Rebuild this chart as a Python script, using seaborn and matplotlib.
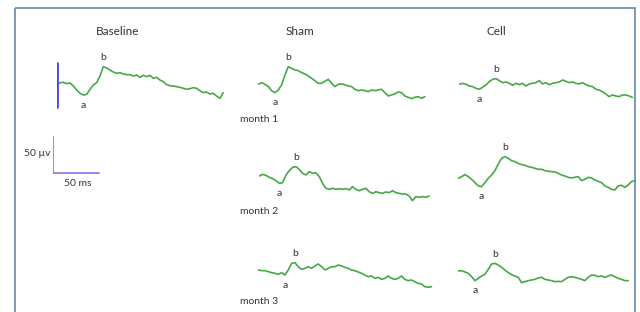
import numpy as np
import matplotlib
matplotlib.use("Agg")
import matplotlib.pyplot as plt
import seaborn as sns

# Registros ERG (µV relativos al inicio del trazo), una muestra cada DT_MS
DT_MS = 3.62

baseline = [0, 3.2, 3.7, 1.9, 2.8, -1.4, -6.9, -11.6, -13.9, -13.0, -6.0, 0, 3.2, 12.5, 25.5,
            23.6, 20.8, 18.1, 16.2, 17.1, 15.3, 14.4, 14.4, 12.5, 13.9, 10.6, 13.4, 11.6, 13.4,
            9.3, 10.6, 6.9, 4.6, 0.5, -0.9, -1.4, -2.3, -3.2, -4.6, -6.0, -5.1, -3.7, -4.6,
            -7.9, -10.6, -9.7, -12.5, -11.6, -15.3, -18.5, -10.6]

sham_m1 = [0, 2.3, 0, -3.2, -8.8, -11.6, -7.9, -0.9, 13.0, 24.5, 22.2, 19.9, 19.0, 16.2, 14.4,
           11.6, 8.3, 5.1, 1.4, 1.4, 4.2, 6.9, 1.4, -3.2, 0, 0.5, -0.5, -2.3, -3.2, -6.9, -8.8,
           -7.9, -8.8, -10.2, -7.9, -8.8, -7.9, -6.9, -11.6, -16.2, -14.8, -13.4, -10.6, -11.6,
           -16.2, -18.1, -19.9, -18.1, -17.1, -19.4, -17.1]

cell_m1 = [0, 1.4, 0, -2.3, -3.2, -5.6, -6.9, -4.2, -0.9, 3.7, 6.9, 7.9, 5.1, 2.3, 3.2, 1.4,
           -1.4, 1.4, -0.5, 1.4, -2.3, 0.5, 1.4, 2.3, 5.1, 0.5, 2.3, -0.5, 1.4, 2.3, 3.2, 6.0,
           4.2, 2.3, 3.2, 1.4, 0.5, 2.3, -0.5, -2.3, -3.2, -6.9, -7.9, -10.2, -13.4, -17.1,
           -14.8, -16.2, -17.1, -14.8, -14.8, -16.2, -18.1]

sham_m2 = [0, 2.3, 0.9, -1.9, -3.7, -6.5, -10.2, -9.3, 1.4, 7.4, 12.0, 13.0, 9.3, 3.7, 1.4,
           6.0, 3.7, 4.6, -0.9, -10.2, -17.1, -18.5, -17.1, -18.5, -17.6, -18.5, -17.6, -19.4,
           -14.8, -18.5, -20.4, -18.5, -17.1, -21.8, -24.1, -21.8, -23.1, -24.1, -22.2, -23.1,
           -20.4, -23.1, -24.1, -25.0, -25.0, -27.8, -34.3, -28.7, -29.6, -28.7, -29.6, -27.8]

cell_m2 = [0, 2.3, 5.1, 2.3, -1.4, -6.0, -10.6, -11.6, -6.0, 0, 4.6, 10.6, 19.9, 27.8, 30.1,
           27.8, 24.5, 23.1, 20.8, 19.0, 18.1, 16.2, 15.3, 13.9, 12.5, 12.5, 10.6, 9.7, 9.3,
           8.8, 6.9, 4.6, 3.2, 1.4, 0.5, 1.4, 2.3, -3.2, -1.4, 1.4, 0.5, -2.3, -4.2, -6.0,
           -10.6, -12.5, -15.3, -16.2, -10.6, -9.7, -12.5, -9.3, -4.6, -3.2]

sham_m3 = [0, -0.9, -0.9, -2.3, -3.7, -4.6, -6.0, -3.7, -6.9, 0, 9.3, 10.2, 4.6, 0.9, 2.3,
           4.6, 2.3, 5.6, 8.3, 4.6, 0, 2.3, 4.6, 4.6, 6.9, 5.6, 3.7, 2.3, 0, -0.9, -2.8, -4.6,
           -6.9, -9.3, -8.3, -11.6, -10.2, -13.0, -11.6, -8.3, -11.6, -13.0, -11.6, -8.3,
           -13.0, -14.8, -13.9, -16.2, -18.5, -19.4, -23.1, -24.1, -23.1]

cell_m3 = [0, 0.5, -1.4, -3.2, -7.9, -13.4, -10.2, -6.9, -4.6, 2.3, 9.7, 10.6, 8.3, 5.1, 1.4,
           -2.3, -5.1, -6.9, -8.8, -16.2, -14.8, -13.4, -12.5, -11.6, -9.7, -8.8, -11.6,
           -12.5, -13.4, -14.8, -14.4, -14.8, -11.6, -8.8, -7.9, -8.8, -10.2, -11.6, -13.4,
           -8.8, -5.6, -6.0, -7.9, -6.9, -8.8, -6.9, -5.6, -7.9, -10.2, -11.6, -13.4, -13.4]

grupos = ["Baseline", "Sham", "Cell"]
meses = ["month 1", "month 2", "month 3"]
SCALE_UV = 50
SCALE_MS = 50

# escala de la figura: pixeles por unidad
MS_PER_PX = 50 / 46
UV_PER_PX = 50 / 36
W, H = 640, 312

VERDE = "#46a846"
TEXTO = "#333333"

sns.set_theme(style="white")
plt.rcParams["font.family"] = ["Lato", "DejaVu Sans"]

fig = plt.figure(figsize=(6.4, 3.12), dpi=100)

# eje de fondo en pixeles para marco y textos
bg = fig.add_axes([0, 0, 1, 1])
bg.set_xlim(0, W)
bg.set_ylim(H, 0)
bg.axis("off")
bg.add_patch(plt.Rectangle((15, 8), 620, 320, fill=False, edgecolor="#6288b2", linewidth=1.2))


def eje_trazo(x0, y0):
    # ejes donde el punto (0 ms, 0 µV) cae en el pixel (x0, y0)
    ax = fig.add_axes([x0 / W, 1 - (y0 + 60) / H, 200 / W, 120 / H])
    ax.set_xlim(0, 200 * MS_PER_PX)
    ax.set_ylim(-60 * UV_PER_PX, 60 * UV_PER_PX)
    ax.axis("off")
    ax.patch.set_alpha(0)
    return ax


def dibujar(x0, y0, valores):
    ax = eje_trazo(x0, y0)
    v = np.array(valores)
    t = np.arange(len(v)) * DT_MS
    sns.lineplot(x=t, y=v, ax=ax, color=VERDE, linewidth=1.2)
    # onda b = maximo, onda a = minimo antes de b
    ib = int(np.argmax(v[: len(v) // 2]))
    ia = int(np.argmin(v[:ib]))
    ax.annotate("b", (t[ib], v[ib]), xytext=(0, 3), textcoords="offset points",
                ha="center", va="bottom", fontsize=7.5, color=TEXTO)
    ax.annotate("a", (t[ia], v[ia]), xytext=(0, -4), textcoords="offset points",
                ha="center", va="top", fontsize=7.5, color=TEXTO)
    return ax


ax0 = dibujar(56.7, 85, baseline)
# marca del estimulo
ax0.plot([0, 0], [-31, 31], color="#4646f0", linewidth=2)

dibujar(258.3, 84.3, sham_m1)
dibujar(459.3, 84.3, cell_m1)
dibujar(259.3, 176, sham_m2)
dibujar(458.3, 178.3, cell_m2)
dibujar(258.3, 270, sham_m3)
dibujar(458.3, 271, cell_m3)

# barra de escala
axs = eje_trazo(53, 173)
axs.plot([0, 0, SCALE_MS], [SCALE_UV, 0, 0], color="#8a80f0", linewidth=1.3)
bg.text(51, 153, f"{SCALE_UV} µv", ha="right", va="center", fontsize=7.5, color=TEXTO)
bg.text(78, 183, f"{SCALE_MS} ms", ha="center", va="center", fontsize=7.5, color=TEXTO)

# titulos de columnas
for nombre, xc in zip(grupos, [117.5, 300, 496]):
    bg.text(xc, 31.5, nombre, ha="center", va="center", fontsize=8.5, color=TEXTO)

# etiquetas de meses
for mes, yc in zip(meses, [120, 212, 302]):
    bg.text(240, yc, mes, ha="left", va="center", fontsize=7.5, color=TEXTO)

fig.savefig("out.png", dpi=100)
